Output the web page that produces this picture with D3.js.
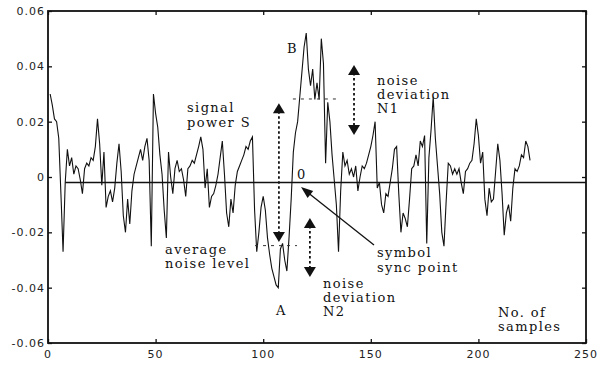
<!DOCTYPE html>
<html><head><meta charset="utf-8">
<script src="https://cdn.jsdelivr.net/npm/d3@7"></script>
<style>
html,body{margin:0;padding:0;background:#fff;}
svg{display:block;}
.ann{font-family:"DejaVu Serif",serif;font-size:13px;letter-spacing:1.4px;fill:#111;}
.tick{font-family:"DejaVu Sans",sans-serif;font-size:11px;letter-spacing:1px;fill:#222;}
</style></head><body>
<svg id="c" width="598" height="365"></svg>
<script>
// ---- data ----
const signal = [
 0.030,0.026,0.021,0.020,0.014,-0.006,-0.027,-0.002,0.010,0.004,
 0.007,0.001,0.004,0.003,-0.001,-0.006,0.003,0.005,0.004,0.007,
 0.006,0.011,0.021,0.012,-0.003,0.009,-0.011,-0.007,-0.005,-0.009,
 -0.004,0.005,0.012,0.002,-0.014,-0.020,-0.008,-0.017,-0.005,0.001,
 0.004,0.007,0.010,0.006,0.011,0.014,0.006,-0.025,0.030,0.023,
 0.018,0.008,0.001,-0.012,-0.022,0.009,0.000,-0.006,0.003,0.006,
 0.002,0.003,-0.001,-0.007,0.003,0.004,0.006,0.005,0.008,0.011,
 0.0145,0.010,-0.004,0.003,-0.011,-0.007,-0.006,-0.003,0.001,0.007,
 0.013,0.001,-0.013,-0.018,-0.008,-0.013,-0.003,0.002,0.004,0.006,
 0.008,0.011,0.010,0.013,0.0145,-0.012,-0.027,-0.020,-0.011,-0.007,
 -0.012,-0.022,-0.028,-0.033,-0.036,-0.039,-0.040,-0.026,-0.024,-0.030,
 -0.034,-0.022,-0.008,0.009,0.016,0.020,0.029,0.038,0.047,0.052,
 0.039,0.033,0.039,0.028,0.034,0.028,0.050,0.041,0.005,0.027,
 0.020,0.008,-0.001,-0.010,-0.027,-0.005,0.009,0.004,0.006,0.001,
 0.003,0.000,0.004,-0.005,0.000,0.004,0.003,0.005,0.008,0.011,
 0.015,0.020,-0.004,-0.002,-0.010,-0.013,-0.006,-0.007,-0.002,0.003,
 0.010,0.011,-0.006,-0.020,-0.013,-0.015,-0.018,-0.008,0.003,0.004,
 0.008,0.004,0.013,0.011,0.015,-0.024,0.007,0.017,0.029,0.014,
 0.004,-0.006,-0.020,-0.025,-0.009,0.005,0.004,0.001,0.003,0.001,
 0.003,-0.002,-0.006,0.002,0.003,0.005,0.006,0.012,0.021,0.015,
 0.005,0.009,-0.008,-0.014,-0.004,-0.009,-0.008,0.002,0.012,0.006,
 -0.006,-0.021,-0.013,-0.010,-0.016,-0.004,0.003,0.002,0.004,0.008,
 0.007,0.013,0.011,0.006
];
const xTicks = [0, 50, 100, 150, 200, 250];
const yTicks = [0.06, 0.04, 0.02, 0, -0.02, -0.04, -0.06];
const yTickLabels = ["0.06", "0.04", "0.02", "0", "-0.02", "-0.04", "-0.06"];
const refLevel = -0.002;          // horizontal reference line
const levelB = 0.0282;            // dashed level near peak B
const levelA = -0.0248;           // dashed level near trough A
const levelBRange = [113.8, 134.8];
const levelARange = [96.2, 115.7];

// ---- layout ----
const svg = d3.select("#c");
const L = 48, R = 586, T = 11, B = 343;
const x = d3.scaleLinear().domain([0, 250]).range([L, R]);
const y = d3.scaleLinear().domain([-0.06, 0.06]).range([B, T]);

// frame
svg.append("rect").attr("x", L).attr("y", T).attr("width", R - L).attr("height", B - T)
  .attr("fill", "none").attr("stroke", "#111").attr("stroke-width", 1.8);

// axes ticks (inward)
const gB = svg.append("g").attr("transform", `translate(0,${B})`)
  .call(d3.axisTop(x).tickValues(xTicks).tickSize(4).tickFormat(""));
const gT = svg.append("g").attr("transform", `translate(0,${T})`)
  .call(d3.axisBottom(x).tickValues(xTicks).tickSize(4).tickFormat(""));
const gL = svg.append("g").attr("transform", `translate(${L},0)`)
  .call(d3.axisRight(y).tickValues(yTicks).tickSize(4).tickFormat(""));
const gR = svg.append("g").attr("transform", `translate(${R},0)`)
  .call(d3.axisLeft(y).tickValues(yTicks).tickSize(4).tickFormat(""));
[gB, gT, gL, gR].forEach(g => {
  g.select(".domain").remove();
  g.selectAll("line").attr("stroke", "#111").attr("stroke-width", 1.3);
});

// tick labels
svg.selectAll("text.xl").data(xTicks).join("text").attr("class", "tick")
  .attr("x", d => x(d)).attr("y", 358).attr("text-anchor", "middle").text(d => d);
svg.selectAll("text.yl").data(yTicks).join("text").attr("class", "tick")
  .attr("x", 45).attr("y", d => y(d) + 4).attr("text-anchor", "end")
  .text((d, i) => yTickLabels[i]);

// reference line
svg.append("line").attr("x1", x(8)).attr("x2", x(250))
  .attr("y1", y(refLevel)).attr("y2", y(refLevel))
  .attr("stroke", "#111").attr("stroke-width", 1.5);

// signal
const line = d3.line().x((d, i) => x(i + 1)).y(d => y(d));
svg.append("path").datum(signal).attr("d", line)
  .attr("fill", "none").attr("stroke", "#111").attr("stroke-width", 1.1)
  .attr("stroke-linejoin", "miter");

// dashed levels
[[levelB, levelBRange], [levelA, levelARange]].forEach(([lv, rg]) => {
  svg.append("line").attr("x1", x(rg[0])).attr("x2", x(rg[1]))
    .attr("y1", y(lv)).attr("y2", y(lv))
    .attr("stroke", "#333").attr("stroke-width", 1).attr("stroke-dasharray", "3,5");
});

// double arrows
function dblArrow(sx, v1, v2) {
  const px = x(sx), y1 = y(v1), y2 = y(v2);
  svg.append("line").attr("x1", px).attr("x2", px).attr("y1", y1 + 8).attr("y2", y2 - 8)
    .attr("stroke", "#111").attr("stroke-width", 1.8).attr("stroke-dasharray", "2.5,2.5");
  svg.append("path").attr("d", `M${px},${y1} L${px - 6},${y1 + 10} L${px + 6},${y1 + 10} Z`).attr("fill", "#111");
  svg.append("path").attr("d", `M${px},${y2} L${px - 6},${y2 - 10} L${px + 6},${y2 - 10} Z`).attr("fill", "#111");
}
dblArrow(107.3, 0.0267, -0.0235);   // signal power S
dblArrow(142.2, 0.0405, 0.0152);    // noise deviation N1
dblArrow(121.7, -0.0148, -0.0361);  // noise deviation N2

// sync point arrow
(function () {
  const x0 = 374, y0 = 245, x1 = 301, y1 = 187;
  svg.append("line").attr("x1", x0).attr("y1", y0).attr("x2", x1 + 8).attr("y2", y1 + 6.4)
    .attr("stroke", "#111").attr("stroke-width", 1.3);
  const ang = Math.atan2(y1 - y0, x1 - x0);
  const len = 12, w = 4.5;
  const bx = x1 - len * Math.cos(ang), by = y1 - len * Math.sin(ang);
  const nx = -Math.sin(ang) * w, ny = Math.cos(ang) * w;
  svg.append("path").attr("d", `M${x1},${y1} L${bx + nx},${by + ny} L${bx - nx},${by - ny} Z`).attr("fill", "#111");
})();

// annotations
const ann = [
  ["B", 287, 53], ["signal", 187, 112], ["power S", 187, 127],
  ["noise", 377, 85], ["deviation", 377, 99], ["N1", 377, 113],
  ["0", 297, 179],
  ["average", 165, 254], ["noise level", 165, 268],
  ["symbol", 377, 257], ["sync point", 377, 272],
  ["A", 276, 315],
  ["noise", 323, 288], ["deviation", 323, 302], ["N2", 323, 316],
  ["No. of", 498, 317], ["samples", 498, 331]
];
svg.selectAll("text.ann").data(ann).join("text").attr("class", "ann")
  .attr("x", d => d[1]).attr("y", d => d[2]).text(d => d[0]);
</script>
</body></html>
